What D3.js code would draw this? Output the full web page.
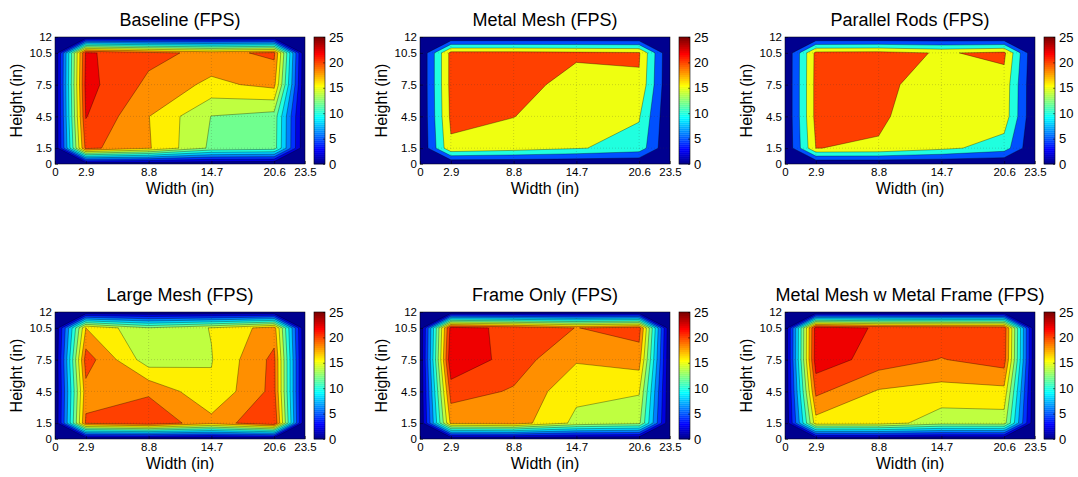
<!DOCTYPE html>
<html>
<head>
<meta charset="utf-8">
<script src="https://cdn.jsdelivr.net/npm/d3@7"></script>
<style>
  body { margin: 0; background: #fff; }
  svg { display: block; }
  text { font-family: "Liberation Sans", Arial, Helvetica, sans-serif; fill: #000; }
</style>
</head>
<body>
<svg id="chart" width="1078" height="477"></svg>
<script>
// Measurement grid (inches); the outer rows/columns are the enclosure walls (0 FPS)
const widthTicks = [0, 2.9, 8.8, 14.7, 20.6, 23.5];
const heightTicks = [0, 1.5, 4.5, 7.5, 10.5, 12];
const colorbarTicks = [0, 5, 10, 15, 20, 25];

// FPS at the interior points: rows from 1.5 in up to 10.5 in, columns 2.9 in to 20.6 in
const baselineFps = [
  [20.6, 18.2, 13.6, 13.0],
  [22.1, 18.05, 13.95, 13.2],
  [22.7, 19.55, 17.5, 18.6],
  [22.3, 20.6, 19.4, 20.4]
];
const metalMeshFps = [
  [19.2, 17.5, 15.44, 13.0],
  [21.0, 20.1, 17.0, 15.44],
  [21.5, 22.5, 17.67, 19.4],
  [21.5, 21.5, 21.0, 20.5]
];
const parallelRodsFps = [
  [20.05, 19.57, 16.3, 12.5],
  [21.5, 20.7, 17.0, 17.9],
  [21.5, 21.3, 17.5, 18.3],
  [21.3, 21.56, 19.6, 21.0]
];
const largeMeshFps = [
  [20.3, 21.5, 18.7, 22.0],
  [19.3, 19.7, 16.3, 20.65],
  [21.0, 14.83, 15.9, 20.57],
  [18.0, 14.1, 16.1, 19.0]
];
const frameOnlyFps = [
  [18.5, 19.07, 15.5, 14.5],
  [20.92, 19.79, 16.5, 16.2],
  [23.8, 21.03, 18.2, 18.9],
  [22.75, 21.5, 19.95, 20.9]
];
const meshWithFrameFps = [
  [17.17, 17.0, 14.9, 14.95],
  [20.5, 17.8, 17.19, 17.39],
  [23.18, 21.11, 19.9, 20.96],
  [23.0, 21.8, 21.5, 21.3]
];

// Contour levels
const fineLevels = [0, 2, 4, 6, 8, 10, 12, 14, 16, 18, 20, 22];
const coarseLevels = [0, 5, 10, 15, 20];

const panels = [
  { title: "Baseline (FPS)", fps: baselineFps, levels: fineLevels },
  { title: "Metal Mesh (FPS)", fps: metalMeshFps, levels: coarseLevels },
  { title: "Parallel Rods (FPS)", fps: parallelRodsFps, levels: coarseLevels },
  { title: "Large Mesh (FPS)", fps: largeMeshFps, levels: fineLevels },
  { title: "Frame Only (FPS)", fps: frameOnlyFps, levels: fineLevels },
  { title: "Metal Mesh w Metal Frame (FPS)", fps: meshWithFrameFps, levels: fineLevels }
];

// MATLAB-style jet colormap with 64 entries
function jetMap(m) {
  const n = Math.ceil(m / 4);
  const u = [];
  for (let i = 1; i <= n; i++) u.push(i / n);
  for (let i = 1; i < n; i++) u.push(1);
  for (let i = n; i >= 1; i--) u.push(i / n);
  const off = Math.ceil(n / 2) - (m % 4 === 1 ? 1 : 0);
  const cmap = d3.range(m).map(() => [0, 0, 0]);
  u.forEach((val, k) => {
    const g = off + k + 1, r = g + n, b = g - n;
    if (r >= 1 && r <= m) cmap[r - 1][0] = val;
    if (g >= 1 && g <= m) cmap[g - 1][1] = val;
    if (b >= 1 && b <= m) cmap[b - 1][2] = val;
  });
  return cmap.map(c => d3.rgb(c[0] * 255, c[1] * 255, c[2] * 255).formatHex());
}
const jet = jetMap(64);
const cMin = 0, cMax = 25;
function levelColor(v) {
  let idx = Math.floor((v - cMin) / (cMax - cMin) * jet.length);
  idx = Math.max(0, Math.min(jet.length - 1, idx));
  return jet[idx];
}

const svg = d3.select("#chart");
const colX = [55, 420, 785];
const rowY = [37, 312];
const plotW = 250, plotH = 127;

// Map a fractional grid index (d3.contours space, samples at i + 0.5) onto data units
function gridToData(ticks, c) {
  const t = Math.max(0, Math.min(ticks.length - 1, c - 0.5));
  const i = Math.min(ticks.length - 2, Math.floor(t));
  const f = t - i;
  return ticks[i] + f * (ticks[i + 1] - ticks[i]);
}

panels.forEach((p, k) => {
  const x0 = colX[k % 3], y0 = rowY[Math.floor(k / 3)];
  const x = d3.scaleLinear().domain([0, 23.5]).range([x0, x0 + plotW]);
  const y = d3.scaleLinear().domain([0, 12]).range([y0 + plotH, y0]);
  const g = svg.append("g");

  // full grid with zero walls
  const nx = widthTicks.length, ny = heightTicks.length;
  const values = new Array(nx * ny).fill(0);
  p.fps.forEach((row, j) => row.forEach((v, i) => { values[(j + 1) * nx + (i + 1)] = v; }));

  const contours = d3.contours().size([nx, ny]).thresholds(p.levels)(values);
  const pathOf = mp => mp.coordinates.map(poly => poly.map(ring =>
    "M" + ring.map(pt => [x(gridToData(widthTicks, pt[0])), y(gridToData(heightTicks, pt[1]))].map(d => d.toFixed(2)).join(",")).join("L") + "Z"
  ).join("")).join("");

  g.selectAll("path.fill").data(contours).join("path")
    .attr("class", "fill")
    .attr("d", pathOf)
    .attr("fill", d => levelColor(d.value))
    .attr("stroke", "none");

  g.selectAll("path.line").data(contours.filter(d => d.value > 0)).join("path")
    .attr("class", "line")
    .attr("d", pathOf)
    .attr("fill", "none")
    .attr("stroke", "#000")
    .attr("stroke-opacity", 0.55)
    .attr("stroke-width", 0.6);

  // dotted grid
  const gridG = g.append("g").attr("stroke", "#333").attr("stroke-opacity", 0.35)
    .attr("stroke-width", 0.6).attr("stroke-dasharray", "1,2");
  widthTicks.slice(1, -1).forEach(v => gridG.append("line")
    .attr("x1", x(v)).attr("x2", x(v)).attr("y1", y0).attr("y2", y0 + plotH));
  heightTicks.slice(1, -1).forEach(v => gridG.append("line")
    .attr("y1", y(v)).attr("y2", y(v)).attr("x1", x0).attr("x2", x0 + plotW));

  // axes
  g.append("g").attr("transform", `translate(0,${y0 + plotH})`)
    .call(d3.axisBottom(x).tickValues(widthTicks).tickFormat(d3.format("")).tickSizeInner(-3).tickSizeOuter(0).tickPadding(4))
    .call(a => a.select(".domain").remove())
    .call(a => a.selectAll("line").attr("stroke", "#000").attr("stroke-width", 0.5))
    .call(a => a.selectAll("text").attr("font-size", 11.5).attr("font-family", null));
  g.append("g").attr("transform", `translate(${x0},0)`)
    .call(d3.axisLeft(y).tickValues(heightTicks).tickFormat(d3.format("")).tickSizeInner(-3).tickSizeOuter(0).tickPadding(3))
    .call(a => a.select(".domain").remove())
    .call(a => a.selectAll("line").attr("stroke", "#000").attr("stroke-width", 0.5))
    .call(a => a.selectAll("text").attr("font-size", 11.5).attr("font-family", null));

  g.append("rect").attr("x", x0).attr("y", y0).attr("width", plotW).attr("height", plotH)
    .attr("fill", "none").attr("stroke", "#000").attr("stroke-width", 0.5);

  // labels
  g.append("text").attr("x", x0 + plotW / 2).attr("y", y0 - 11)
    .attr("text-anchor", "middle").attr("font-size", 18).text(p.title);
  g.append("text").attr("x", x0 + plotW / 2).attr("y", y0 + plotH + 30)
    .attr("text-anchor", "middle").attr("font-size", 16).text("Width (in)");
  g.append("text").attr("transform", `translate(${x0 - 33},${y0 + plotH / 2}) rotate(-90)`)
    .attr("text-anchor", "middle").attr("font-size", 16).text("Height (in)");

  // colorbar
  const cbX = x0 + 259, cbW = 11;
  const c = d3.scaleLinear().domain([cMin, cMax]).range([y0 + plotH, y0]);
  const step = (cMax - cMin) / jet.length;
  g.append("g").selectAll("rect").data(jet).join("rect")
    .attr("x", cbX).attr("width", cbW)
    .attr("y", (d, i) => c(cMin + (i + 1) * step))
    .attr("height", (d, i) => c(cMin + i * step) - c(cMin + (i + 1) * step) + 0.3)
    .attr("fill", d => d);
  g.append("rect").attr("x", cbX).attr("y", y0).attr("width", cbW).attr("height", plotH)
    .attr("fill", "none").attr("stroke", "#000").attr("stroke-width", 0.6);
  g.append("g").attr("transform", `translate(${cbX + cbW},0)`)
    .call(d3.axisRight(c).tickValues(colorbarTicks).tickSizeInner(-2).tickSizeOuter(0).tickPadding(4))
    .call(a => a.select(".domain").remove())
    .call(a => a.selectAll("line").attr("stroke", "#000").attr("stroke-width", 0.5))
    .call(a => a.selectAll("text").attr("font-size", 13).attr("font-family", null));
});
</script>
</body>
</html>
